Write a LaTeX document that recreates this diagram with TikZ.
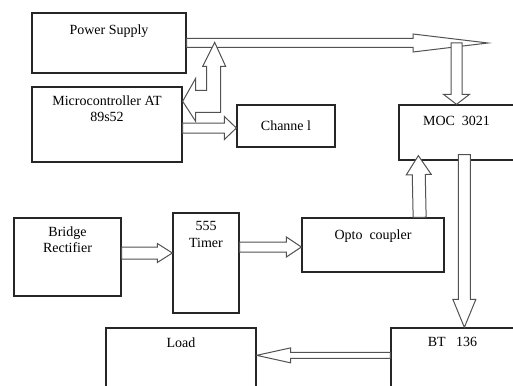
\documentclass[tikz,border=0pt]{standalone}
\usepackage{fontspec}
\setmainfont{Liberation Serif}
\usetikzlibrary{calc}

\newcommand{\blockarrow}[5]{%
  \draw[arrowline] let \p1=(#1), \p2=(#2),
    \n1={atan2(\y2-\y1,\x2-\x1)}, \n2={veclen(\x2-\x1,\y2-\y1)} in
    [shift={(\p1)}, rotate=\n1]
    (0,#3) -- ({\n2-#5},#3) -- ({\n2-#5},#4) -- (\n2,0)
    -- ({\n2-#5},-#4) -- ({\n2-#5},-#3) -- (0,-#3) -- cycle;}

\begin{document}
\begin{tikzpicture}[x=1pt, y=-1pt,
  box/.style={draw=black!85, line width=1.3pt, inner sep=0pt},
  toptext/.style={anchor=north, align=center, inner sep=0pt, yshift=-#1},
  toptext/.default=10pt,
  arrowline/.style={draw=black!68, line width=1pt, fill=white},
  font=\fontsize{14}{16.5}\selectfont]
\useasboundingbox (0,0) rectangle (513,385);
\clip (0,0) rectangle (513,385);

\node[box, minimum width=154, minimum height=60, label={[toptext=12pt]north:Power Supply}] (ps) at (109,43) {};
\node[box, minimum width=150, minimum height=75, label={[toptext=9pt]north:{Microcontroller AT\\89s52}}] (mc) at (107,124.5) {};
\node[box, minimum width=98, minimum height=42] (ch) at (286,126) {Channe l};
\node[box, minimum width=115, minimum height=55, label={[toptext=12pt]north:MOC\ \ 3021}] (moc) at (456.5,132.5) {};
\node[box, minimum width=107, minimum height=78, label={[toptext=9pt]north:{Bridge\\Rectifier}}] (br) at (67.5,257) {};
\node[box, minimum width=66, minimum height=100, label={[toptext=9pt]north:{555\\Timer}}] (tm) at (206,263) {};
\node[box, minimum width=142, minimum height=54, label={[toptext=12pt]north:Opto\ \ coupler}] (oc) at (373,245) {};
\node[box, minimum width=150, minimum height=72, label={[toptext]north:Load}] (ld) at (181,364) {};
\node[box, minimum width=123, minimum height=72, label={[toptext]north:BT\ \ \ 136}] (bt) at (452.5,364) {};

\coordinate (pstip) at (488,43);
\coordinate (split) at (ps.east -| moc.north);
\coordinate (mcout) at ($(mc.east)+(0,3.5)$);
\coordinate (chin) at (mcout -| ch.west);
\coordinate (brout) at ($(br.east)+(0,-4)$);
\coordinate (tmin) at (brout -| tm.west);
\coordinate (tmout) at ($(tm.east |- oc.west)+(0,2)$);
\coordinate (ocin) at (tmout -| oc.west);
\coordinate (ocup) at ($(oc.north east)+(-25,0)$);
\coordinate (mocin) at ($(moc.south west)+(20,-5)$);
\coordinate (mocout) at ($(moc.south west)+(66,-6)$);
\coordinate (btin) at (mocout |- bt.north);
\coordinate (btout) at ($(bt.north west)+(0,28)$);
\coordinate (ldin) at (btout -| ld.east);

\blockarrow{ps.east}{pstip}{4.5}{9}{75}
\draw[arrowline, shift={(mc.north east)}] (0,15) -- (13,-8) -- (13,4) -- (24,4)
  -- (24,-20) -- (20,-20) -- (32,-44) -- (43,-20) -- (38,-20) -- (38,26)
  -- (13,26) -- (13,35) -- cycle;
\blockarrow{split}{moc.north}{5.5}{13}{10}
\blockarrow{mcout}{chin}{5}{11.5}{12}
\blockarrow{brout}{tmin}{6}{9.5}{15}
\blockarrow{tmout}{ocin}{5}{10}{15}
\blockarrow{ocup}{mocin}{6.5}{12.5}{19}
\blockarrow{mocout}{btin}{6}{11.5}{28}
\blockarrow{btout}{ldin}{3}{7.5}{34}

\end{tikzpicture}
\end{document}
